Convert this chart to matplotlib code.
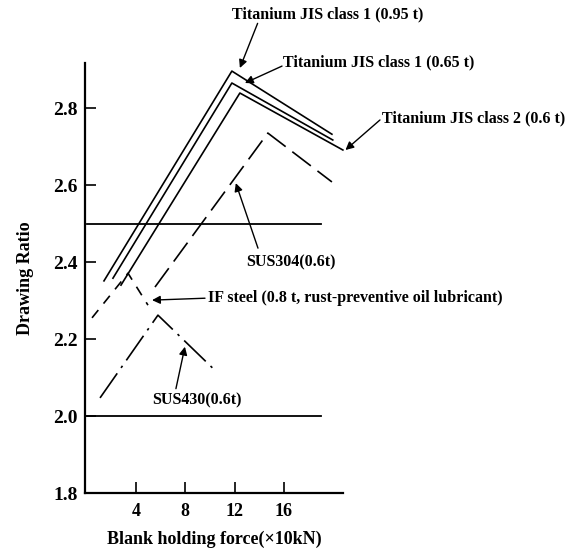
import matplotlib.pyplot as plt

plt.rcParams['font.family'] = ['Liberation Serif', 'DejaVu Serif']
plt.rcParams['font.weight'] = 'bold'

# data (x in 10 kN, y = drawing ratio)
ti095_x = [1.40, 11.78, 19.90]
ti095_y = [2.351, 2.896, 2.732]
ti065_x = [2.13, 11.78, 19.97]
ti065_y = [2.358, 2.865, 2.717]
ti2_x = [2.78, 12.43, 20.79]
ti2_y = [2.340, 2.839, 2.691]
sus304_x = [5.54, 14.70, 19.90]
sus304_y = [2.335, 2.735, 2.608]
ifst_x = [0.43, 3.35, 4.97]
ifst_y = [2.255, 2.371, 2.288]
sus430_x = [1.08, 5.78, 10.40]
sus430_y = [2.047, 2.262, 2.119]

ref_levels = [2.5, 2.0]
ref_x = [0, 19]

xticks = [4, 8, 12, 16]
yticks = [1.8, 2.0, 2.2, 2.4, 2.6, 2.8]

fig = plt.figure(figsize=(5.75, 5.54), dpi=100)
ax = fig.add_axes([85/575, 61/554, 258/575, 430/554])

lw = 1.2
for xs, ys in [(ti095_x, ti095_y), (ti065_x, ti065_y), (ti2_x, ti2_y)]:
    ax.plot(xs, ys, color='black', lw=lw, clip_on=False)
ax.plot(sus304_x, sus304_y, color='black', lw=lw, dashes=(14, 5), clip_on=False)
ax.plot(ifst_x, ifst_y, color='black', lw=lw, dashes=(6, 5), clip_on=False)
ax.plot(sus430_x, sus430_y, color='black', lw=lw, dashes=(18, 4, 1.5, 4), clip_on=False)
for lev in ref_levels:
    ax.plot(ref_x, [lev, lev], color='black', lw=1.3)

ax.set_xlim(-0.14, 20.8)
ax.set_ylim(1.8, 2.917)
ax.set_xticks(xticks)
ax.set_yticks(yticks)
ax.set_yticklabels([f'{v:.1f}' for v in yticks])
ax.tick_params(axis='both', direction='in', length=8, width=1.2, labelsize=13)
ax.tick_params(axis='y', pad=5, labelsize=14)
ax.tick_params(axis='x', pad=7)
for s in ['top', 'right']:
    ax.spines[s].set_visible(False)
for s in ['left', 'bottom']:
    ax.spines[s].set_linewidth(1.6)

ax.set_xlabel('Blank holding force(\u00d710kN)', fontsize=13, fontweight='bold', labelpad=8)
ax.set_ylabel('Drawing Ratio', fontsize=13, fontweight='bold', labelpad=14)

notes = [
    ('Titanium JIS class 1 (0.95 t)', (11.80, 3.042), (13.87, 3.020), (12.43, 2.904)),
    ('Titanium JIS class 1 (0.65 t)', (15.92, 2.919), (15.85, 2.909), (12.84, 2.865)),
    ('Titanium JIS class 2 (0.6 t)', (24.00, 2.774), (23.80, 2.769), (21.00, 2.691)),
    ('SUS304(0.6t)', (12.93, 2.400), (13.90, 2.436), (12.10, 2.605)),
    ('IF steel (0.8 t, rust-preventive oil lubricant)', (9.85, 2.306), (9.60, 2.306), (5.30, 2.301)),
    ('SUS430(0.6t)', (5.30, 2.040), (7.24, 2.071), (7.97, 2.180)),
]
for label, tpos, tail, tip in notes:
    ax.text(tpos[0], tpos[1], label, fontsize=11.5, fontweight='bold',
            ha='left', va='center', clip_on=False)
    ax.annotate('', xy=tip, xytext=tail, annotation_clip=False,
                arrowprops=dict(arrowstyle='-|>', color='black', lw=1.0,
                                mutation_scale=12, shrinkA=0, shrinkB=0))

fig.savefig('out.png', dpi=100)
